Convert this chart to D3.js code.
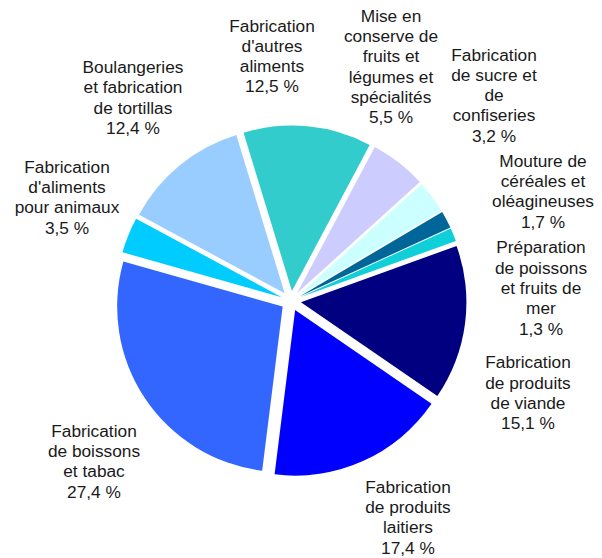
<!DOCTYPE html>
<html>
<head>
<meta charset="utf-8">
<script src="https://cdn.jsdelivr.net/npm/d3@7"></script>
<style>
  body { margin: 0; background: #fff; }
  text { font-family: "Liberation Sans", Arial, sans-serif; }
</style>
</head>
<body>
<div id="chart"></div>
<script>
var wi = 602;
var he = 558;

// data, clockwise from the first slice
var categories = [
  ["Mise en", "conserve de", "fruits et", "légumes et", "spécialités"],
  ["Fabrication", "de sucre et", "de", "confiseries"],
  ["Mouture de", "céréales et", "oléagineuses"],
  ["Préparation", "de poissons", "et fruits de", "mer"],
  ["Fabrication", "de produits", "de viande"],
  ["Fabrication", "de produits", "laitiers"],
  ["Fabrication", "de boissons", "et tabac"],
  ["Fabrication", "d'aliments", "pour animaux"],
  ["Boulangeries", "et fabrication", "de tortillas"],
  ["Fabrication", "d'autres", "aliments"]
];
var values = [5.5, 3.2, 1.7, 1.3, 15.1, 17.4, 27.4, 3.5, 12.4, 12.5];
var colors = ["#CCCCFF", "#CCFFFF", "#006699", "#0FCFD8", "#000080",
              "#0000FF", "#3366FF", "#00CCFF", "#99CCFF", "#33CCCC"];

// label block anchors (center x, first baseline)
var labelPos = [
  [391, 21.7], [494, 60.5], [543, 166.7], [541, 253.3], [528, 368.3],
  [408, 492.7], [94, 436.7], [67, 172.7], [133, 73], [272, 31.5]
];

var cx = 291, cy = 301;
var radius = 165.5;
var explode = 10;
var start = 28 * Math.PI / 180;
var lineH = 20.3;

var svg = d3.select("#chart")
  .append("svg")
  .attr("width", wi)
  .attr("height", he);

svg.append("rect")
  .attr("width", wi)
  .attr("height", he)
  .attr("fill", "#fff");

var pie = d3.pie()
  .sort(null)
  .startAngle(start)
  .endAngle(start + 2 * Math.PI);

var arc = d3.arc()
  .innerRadius(0)
  .outerRadius(radius);

var slices = pie(values);

var g = svg.append("g")
  .attr("transform", "translate(" + cx + "," + cy + ")");

g.selectAll("path")
  .data(slices)
  .enter()
  .append("path")
  .attr("d", arc)
  .attr("fill", function(d, i) { return colors[i]; })
  .attr("transform", function(d) {
    var mid = (d.startAngle + d.endAngle) / 2;
    return "translate(" + (explode * Math.sin(mid)) + "," + (-explode * Math.cos(mid)) + ")";
  });

var fmt = function(v) { return d3.format(".1f")(v).replace(".", ",") + " %"; };

var labels = svg.selectAll("text.lbl")
  .data(slices)
  .enter()
  .append("text")
  .attr("class", "lbl")
  .attr("text-anchor", "middle")
  .attr("font-size", "17.3px")
  .attr("fill", "#1a1a1a");

labels.each(function(d, i) {
  var t = d3.select(this);
  var lines = categories[i].concat([fmt(values[i])]);
  lines.forEach(function(s, j) {
    t.append("tspan")
      .attr("x", labelPos[i][0])
      .attr("y", labelPos[i][1] + j * lineH)
      .text(s);
  });
});
</script>
</body>
</html>
